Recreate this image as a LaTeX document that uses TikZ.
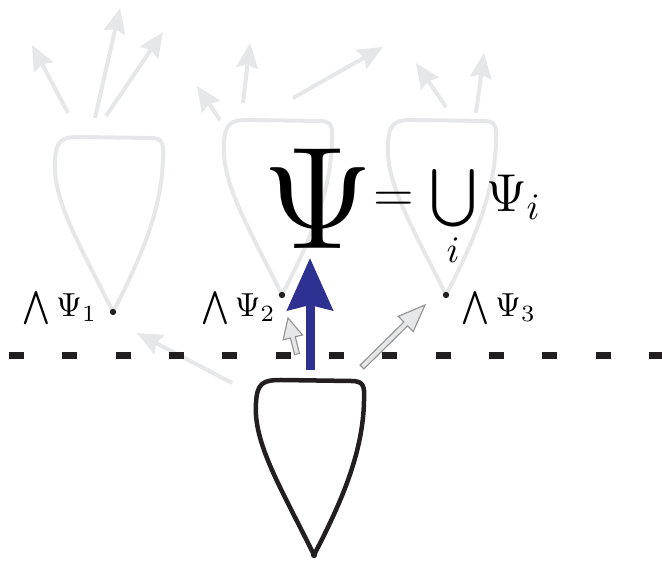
\RequirePackage{fix-cm}
\documentclass[tikz,border=0pt]{standalone}
\usepackage{amsmath}
\usepackage{graphicx}
\usetikzlibrary{arrows.meta,calc}
\definecolor{lgray}{RGB}{230,231,232}
\definecolor{ogray}{RGB}{150,150,150}
\definecolor{dblue}{RGB}{46,49,146}
\definecolor{ink}{RGB}{35,31,32}
\newcommand\fatarrow[5]{% #1 tail, #2 tip, #3 head length, #4 head half width, #5 shaft half width
  \coordinate (fab) at ($(#2)!#3!(#1)$);
  \draw[oarrow] ($(#1)!#5!90:(#2)$) -- ($(fab)!#5!90:(#2)$) -- ($(fab)!#4!90:(#2)$) -- (#2)
    -- ($(fab)!#4!-90:(#2)$) -- ($(fab)!#5!-90:(#2)$) -- ($(#1)!#5!-90:(#2)$) -- cycle;}
\tikzset{
  teardrop/.pic={\draw[pic actions] (0,0) .. controls (-33,-67) and (-61,-112) .. (-58,-152)
      .. controls (-57,-172) and (-51,-175) .. (-33,-175) -- (37,-174)
      .. controls (49,-174) and (51,-170) .. (50,-154)
      .. controls (49,-102) and (27,-52) .. cycle;},
  ghost/.style={draw=lgray, line width=1.2pt, line join=round},
  realshape/.style={draw=ink, line width=1.35pt, line join=round},
  tipdot/.style={circle, fill=ink, inner sep=0pt, minimum size=1.9pt},
  garrow/.style={draw=lgray, line width=1.2pt, -{Stealth[length=7.5pt,width=6.5pt,inset=1pt]}},
  barrow/.style={draw=dblue, line width=2.7pt, -{Stealth[length=15.6pt,width=13.5pt,inset=1.5pt]}},
  oarrow/.style={fill=lgray, draw=ogray, line width=0.35pt, line join=miter},
  dashline/.style={draw=ink, line width=2.1pt, dash pattern=on 4.5pt off 11.5pt},
  lab/.style={inner sep=0pt, font=\fontsize{10}{12}\selectfont, anchor=base},
}
\begin{document}
\begin{tikzpicture}[x=0.3pt,y=-0.3pt]
\useasboundingbox (0,0) rectangle (662,561);
% ghost teardrops
\pic[ghost] at (113,312) {teardrop};
\pic[ghost] at (282,295) {teardrop};
\pic[ghost] at (446,295) {teardrop};
\node[tipdot] (t1) at (113,312) {};
\node[tipdot] (t2) at (282,295) {};
\node[tipdot] (t3) at (446,295) {};
% ghost arrows
\coordinate (a1s) at (68,113);  \coordinate (a1t) at (32,45);
\coordinate (a2s) at (95,118);  \coordinate (a2t) at (120,8);
\coordinate (a3s) at (106,116); \coordinate (a3t) at (163,32);
\coordinate (a4s) at (220,120); \coordinate (a4t) at (197,86);
\coordinate (a5s) at (243,103); \coordinate (a5t) at (250,43);
\coordinate (a6s) at (293,98);  \coordinate (a6t) at (383,47);
\coordinate (a7s) at (446,107); \coordinate (a7t) at (416,63);
\coordinate (a8s) at (476,113); \coordinate (a8t) at (484,53);
\coordinate (a9s) at (232,383); \coordinate (a9t) at (137,333);
\foreach \k in {1,...,9} {\draw[garrow] (a\k s) -- (a\k t);}
% equation
\node[inner sep=0pt, anchor=base, font=\fontsize{16}{19}\selectfont] (eq) at (402,212)
  {$\vcenter{\hbox{\scalebox{2.73}{$\Psi$}}}\mkern-5mu=\bigcup\limits_i\Psi_i$};
% labels
\node[lab] (l1) at (60,317) {$\bigwedge\Psi_1$};
\node[lab] (l2) at (238.5,317) {$\bigwedge\Psi_2$};
\node[lab] (l3) at (499,317) {$\bigwedge\Psi_3$};
% dashed line
\coordinate (dl) at (9,355.5); \coordinate (dr) at (662,355.5);
\draw[dashline] (dl) -- (dr);
% outlined arrows
\coordinate (o1s) at (297,354); \coordinate (o1t) at (288,318);
\coordinate (o2s) at (362,367); \coordinate (o2t) at (425,305);
\fatarrow{o1s}{o1t}{6pt}{3pt}{0.75pt}
\fatarrow{o2s}{o2t}{8.1pt}{3.2pt}{0.8pt}
% blue arrow
\coordinate (bs) at (310,370); \coordinate (bt) at (310,258);
\draw[barrow] (bs) -- (bt);
% real teardrop
\pic[realshape] at (314,555) {teardrop};
\node[tipdot] (t0) at (314,555) {};
\end{tikzpicture}
\end{document}
